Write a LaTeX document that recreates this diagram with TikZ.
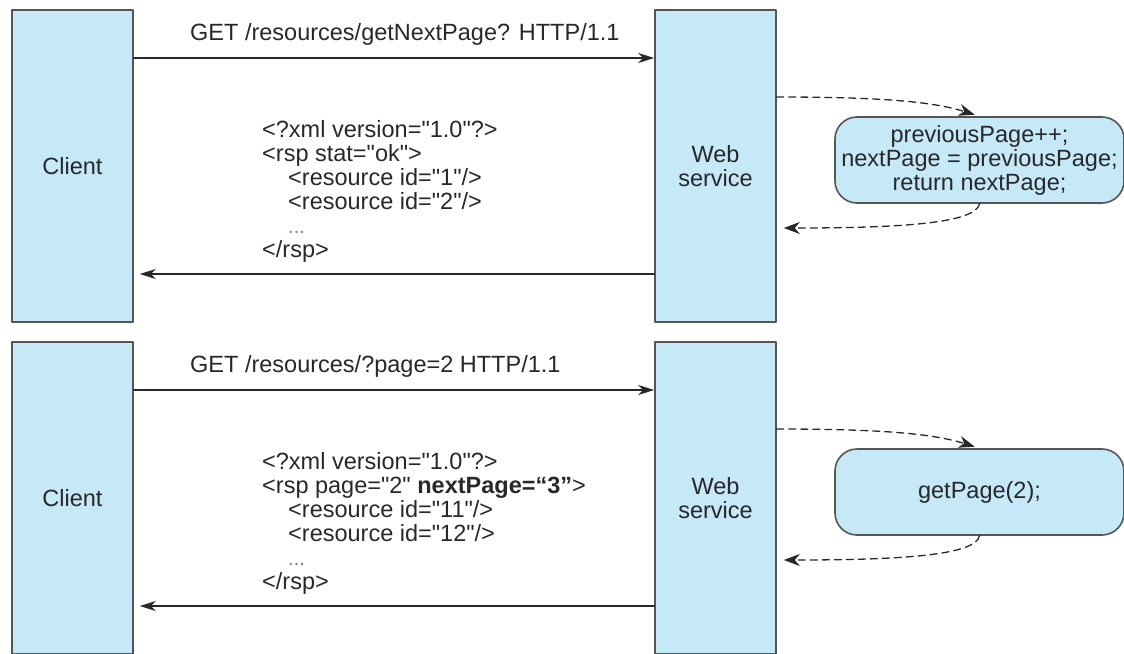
\documentclass[tikz,border=0pt]{standalone}
\usepackage{fontspec}
\setmainfont[Ligatures=TeXOff]{Liberation Sans}
\usetikzlibrary{arrows.meta}
\definecolor{lanefill}{RGB}{198,233,248}
\definecolor{edgegray}{RGB}{85,85,85}
\definecolor{inkgray}{RGB}{40,40,40}
\newcommand\xmlind{\hspace*{26pt}}
\newcommand\xmldots{\textcolor{gray}{\fontsize{20}{20}\selectfont...}}
\begin{document}
\begin{tikzpicture}[x=1pt,y=-1pt,line cap=round,line join=round,font=\fontsize{23.5}{24}\selectfont,>={Stealth[length=16pt,width=10pt,inset=5pt]},
	lane/.style={draw=edgegray,line width=1.6pt,fill=lanefill,minimum width=121pt,minimum height=312pt,align=center,text=inkgray},
	proc/.style={draw=edgegray,line width=1.6pt,fill=lanefill,rounded corners=22pt,minimum width=289pt,minimum height=86pt,align=center,text=inkgray},
	msg/.style={draw=inkgray,line width=1.4pt,->},
	call/.style={draw=inkgray,line width=1.3pt,dash pattern=on 7pt off 5pt,-{Stealth[length=16pt,width=12pt,inset=5pt]}},
	code/.style={anchor=north west,inner sep=0pt,align=left,text=inkgray},
	reqlabel/.style={anchor=base west,inner sep=0pt,text=inkgray}]
		\useasboundingbox (0,0) rectangle (1124,653);
		\clip (0,0) rectangle (1124,653);
		% first request
		\node[lane] (client1) at (72.5,166) {Client};
		\node[lane] (web1) at (715.5,166) {Web\\service};
		\node[proc] (calc1) at (979.5,160) {previousPage++;\\nextPage = previousPage;\\return nextPage;};
		\draw[msg] (client1.east |- 0,58) -- (web1.west |- 0,58);
		\node[reqlabel] (get1) at (190,40) {GET /resources/getNextPage? HTTP/1.1};
		\node[code] (xml1) at (262,120) {<?xml version="1.0"?>\\<rsp stat="ok">\\\xmlind<resource id="1"/>\\\xmlind<resource id="2"/>\\\xmlind\xmldots\\</rsp>};
		\draw[msg,shorten >=6pt] (web1.west |- 0,274) -- (client1.east |- 0,274);
		\draw[call,shorten >=5pt] (web1.east |- 0,97) .. controls +(110,0) and +(-45,-14) .. (calc1.north);
		\draw[call,shorten >=7pt] (calc1.south) .. controls +(-4,20) and +(120,0) .. (web1.east |- 0,228);
		% second request
		\node[lane] (client2) at (72.5,498) {Client};
		\node[lane] (web2) at (715.5,498) {Web\\service};
		\node[proc] (calc2) at (979.5,492) {getPage(2);};
		\draw[msg] (client2.east |- 0,390) -- (web2.west |- 0,390);
		\node[reqlabel] (get2) at (190,372) {GET /resources/?page=2 HTTP/1.1};
		\node[code] (xml2) at (262,452) {<?xml version="1.0"?>\\<rsp page="2" \textbf{nextPage=“3”}>\\\xmlind<resource id="11"/>\\\xmlind<resource id="12"/>\\\xmlind\xmldots\\</rsp>};
		\draw[msg,shorten >=6pt] (web2.west |- 0,606) -- (client2.east |- 0,606);
		\draw[call,shorten >=5pt] (web2.east |- 0,429) .. controls +(110,0) and +(-45,-14) .. (calc2.north);
		\draw[call,shorten >=7pt] (calc2.south) .. controls +(-4,20) and +(120,0) .. (web2.east |- 0,560);
\end{tikzpicture}
\end{document}
